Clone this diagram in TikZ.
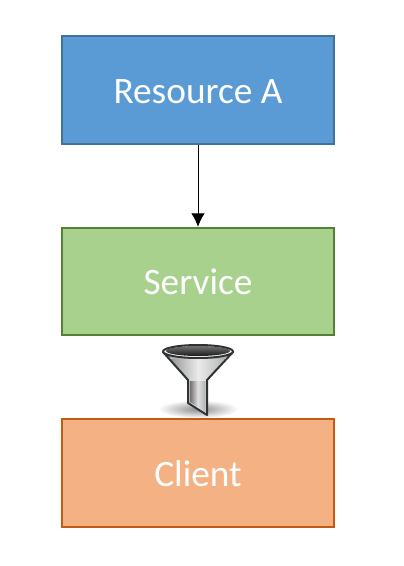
\documentclass[tikz,border=0pt]{standalone}
\usepackage{fontspec}
\setmainfont{Carlito}
\usetikzlibrary{arrows.meta}

\definecolor{resfill}{HTML}{5B9BD5}
\definecolor{resline}{HTML}{41719C}
\definecolor{srvfill}{HTML}{A9D18E}
\definecolor{srvline}{HTML}{548235}
\definecolor{cltfill}{HTML}{F4B183}
\definecolor{cltline}{HTML}{C55A11}
\definecolor{funline}{HTML}{2E3436}

\tikzset{
    block/.style={draw, line width=1.5pt, minimum width=204pt, minimum height=80.5pt,
        inner sep=0pt, text=white, text height=20pt, text depth=0pt,
        font=\fontsize{28}{34}\selectfont}
}

\begin{document}
\begin{tikzpicture}[x=0.75pt, y=-0.75pt]
\useasboundingbox (0,0) rectangle (403,566);

\node[block, fill=resfill, draw=resline] (resource) at (198,90) {Resource A};
\node[block, fill=srvfill, draw=srvline] (service) at (198,281.5) {Service};
\node[block, fill=cltfill, draw=cltline] (client) at (198,473) {Client};

\draw[-{Latex[length=10pt, width=10pt]}, line width=0.75pt] (resource) -- (service);

% Funnel shadow
\shade[inner color=black!45, outer color=white] (198,409) ellipse (40 and 9);

% Funnel body
\shade[left color=black!50, right color=black!35, middle color=black!8, draw=funline, line width=1.5pt, line join=round]
    (163,352) -- (188,380) -- (188,403) -- (207,415) -- (207,380) -- (233,352) -- cycle;
\shade[left color=black!55, right color=black!30, middle color=black!12]
    (190,381) -- (190,402) -- (205.5,412) -- (205.5,381) -- cycle;
\draw[black!30, line width=1.2pt] (170,358) -- (226,358);

% Funnel rim
\fill[white] (198,351.5) ellipse (35 and 6.5);
\shade[top color=black!55, bottom color=black!90] (198,351) ellipse (32 and 5);
\draw[funline, line width=1.5pt] (198,351.5) ellipse (35 and 6.5);
\end{tikzpicture}
\end{document}
